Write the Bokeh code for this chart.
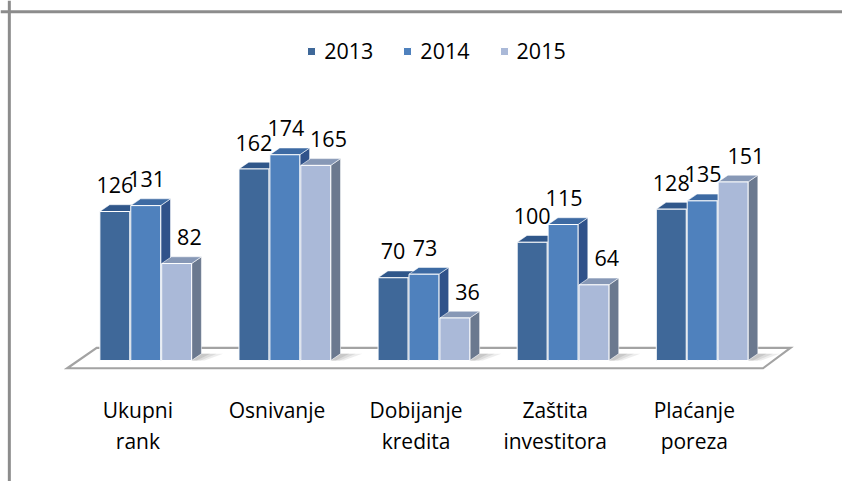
from bokeh.plotting import figure
from bokeh.models import Range1d, Legend, LegendItem, Span, ColumnDataSource
from bokeh.core.properties import value
from bokeh.embed import file_html
from bokeh.resources import INLINE

# ---- data ----
categories = ["Ukupni rank", "Osnivanje", "Dobijanje kredita", "Zaštita investitora", "Plaćanje poreza"]
label_line1 = ["Ukupni", "Osnivanje", "Dobijanje", "Zaštita", "Plaćanje"]
label_line2 = ["rank", "", "kredita", "investitora", "poreza"]
years = ["2013", "2014", "2015"]
v2013 = [126, 162, 70, 100, 128]
v2014 = [131, 174, 73, 115, 135]
v2015 = [82, 165, 36, 64, 151]
series = [v2013, v2014, v2015]

# ---- layout / style ----
FONT = "Open Sans"
front_colors = ["#3f6899", "#4f81bd", "#aab9d8"]
top_colors = ["#30578a", "#3d6aa3", "#8798b6"]
side_colors = ["#2d4a73", "#30528a", "#6b798f"]
W, H = 842, 481
SX, SY = W / 858, H / 497          # reference-pixel -> canvas-pixel
PX_X = 141.75 * SX                 # canvas pixels per category unit
PX_Y = 1.222 * SY                  # canvas pixels per value unit
x0 = -148 / 141.75
x1 = x0 + W / PX_X
y1 = 372 / 1.222
y0 = y1 - H / PX_Y
bar_w = 30.5 / 141.75
bar_step = 31.5 / 141.75
dx = 10 / 141.75
dy = 7 / 1.222
label_dx = [0, 1, 13]
TXT_FIX = 9                        # baseline correction in px

p = figure(width=W, height=H, output_backend="svg", toolbar_location=None,
           x_range=Range1d(x0, x1), y_range=Range1d(y0, y1),
           x_axis_location=None, y_axis_location=None, min_border=0,
           outline_line_color=None, background_fill_color="white",
           border_fill_color="white")
p.grid.visible = False

n = len(categories)
# floor
fl_front_l, fl_front_r = -80 / 141.75, (n - 1) + 629 / 141.75 - 4
fl_back_l, fl_back_r = -50 / 141.75, (n - 1) + 657 / 141.75 - 4
fl_front_y, fl_back_y = -8 / 1.222, 13 / 1.222
p.patch([fl_front_l, fl_front_r, fl_back_r, fl_back_l],
        [fl_front_y, fl_front_y, fl_back_y, fl_back_y],
        fill_color="white", line_color="#a3a3a3", line_width=2.2, line_join="miter")

# soft shadows on the floor, right of each group
last_right = [i + bar_step + bar_w / 2 for i in range(n)]
sh = 22 / 141.75
for k, a in enumerate([0.18, 0.22, 0.3]):
    ext = sh * (1 - k * 0.3)
    p.patches([[r, r + dx, r + dx + ext, r + ext * 0.6] for r in last_right],
              [[0, dy, dy, 0] for _ in last_right],
              fill_color="#9a9a9a", fill_alpha=a, line_color=None)

legend_items = []
for s, vals in enumerate(series):
    off = (s - 1) * bar_step
    xc = [i + off for i in range(n)]
    left = [x - bar_w / 2 for x in xc]
    right = [x + bar_w / 2 for x in xc]
    side_xs = [[r, r, r + dx, r + dx] for r in right]
    side_ys = [[0, v, v + dy, dy] for v in vals]
    top_xs = [[l, r, r + dx, l + dx] for l, r in zip(left, right)]
    top_ys = [[v, v, v + dy, v + dy] for v in vals]
    p.patches(side_xs, side_ys, fill_color=side_colors[s], line_color="white",
              line_width=0.8, line_alpha=0.7)
    p.patches(top_xs, top_ys, fill_color=top_colors[s], line_color="white",
              line_width=0.8, line_alpha=0.7)
    r = p.quad(left=left, right=right, bottom=[0] * n, top=vals,
               fill_color=front_colors[s], line_color="white", line_width=1)
    legend_items.append(LegendItem(label=years[s], renderers=[r]))
    src = ColumnDataSource(dict(x=xc, y=vals, t=[str(v) for v in vals]))
    p.text(x="x", y="y", text="t", source=src, text_font=value(FONT),
           text_font_size="21.5px", text_align="center", text_baseline="alphabetic",
           text_color="black", x_offset=label_dx[s] * SX, y_offset=-18 * SY - TXT_FIX)

# category labels
cat_src = ColumnDataSource(dict(x=list(range(n)), y=[0] * n, l1=label_line1, l2=label_line2))
p.text(x="x", y="y", text="l1", source=cat_src, text_font=value(FONT),
       text_font_size="21px", text_align="center", text_baseline="alphabetic",
       text_color="black", x_offset=-8 * SX, y_offset=60 * SY - TXT_FIX)
p.text(x="x", y="y", text="l2", source=cat_src, text_font=value(FONT),
       text_font_size="21px", text_align="center", text_baseline="alphabetic",
       text_color="black", x_offset=-8 * SX, y_offset=92 * SY - TXT_FIX)

# chart border (top and left visible)
p.add_layout(Span(location=x0 + 9 / 141.75, dimension="height", line_color="#8c8c8c", line_width=3))
p.add_layout(Span(location=y1 - 11.5 / 1.222, dimension="width", line_color="#8c8c8c", line_width=3))

legend = Legend(items=legend_items, orientation="horizontal",
                location=(312 * SX, H - 52 * SY - 15),
                label_text_font=FONT, label_text_font_size="21.5px",
                label_text_color="black", glyph_width=10, glyph_height=10,
                label_standoff=8, spacing=29, padding=0, margin=0,
                border_line_color=None, background_fill_alpha=0)
p.add_layout(legend, "center")

open("out.html", "w").write(file_html(p, INLINE))
